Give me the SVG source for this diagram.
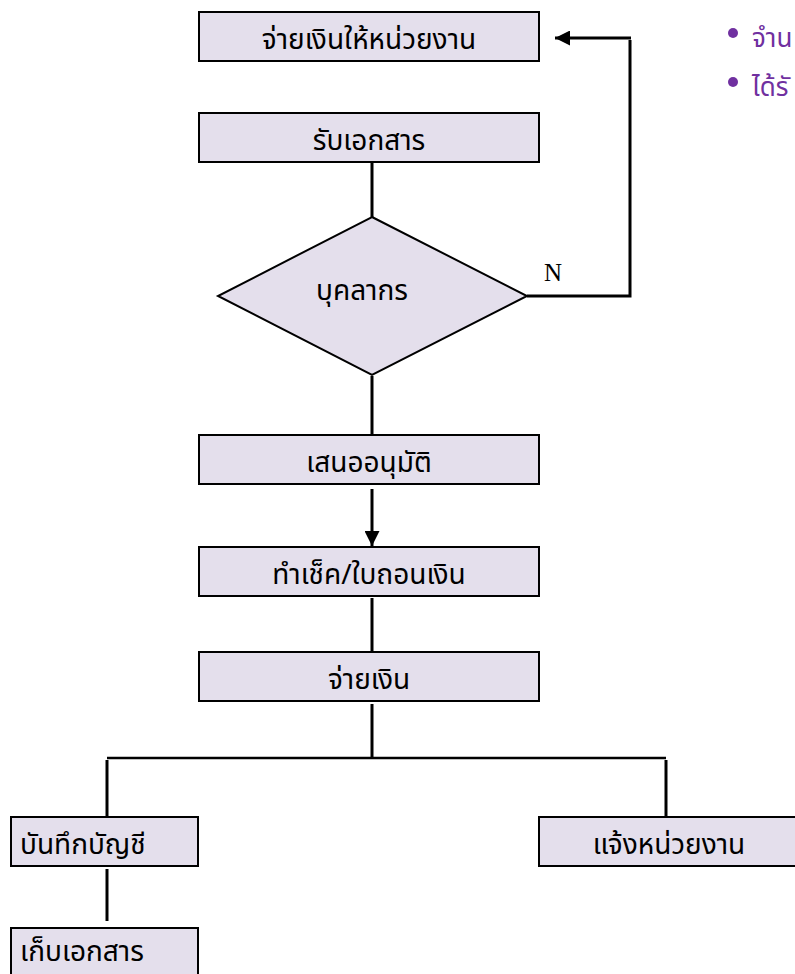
<svg xmlns="http://www.w3.org/2000/svg" width="795" height="974" viewBox="0 0 795 974">
<style>
.box{fill:#E4DFEC;stroke:#000;stroke-width:2}
.t{font-family:"Noto Sans Thai","Noto Sans","DejaVu Sans",sans-serif;font-size:28px;fill:#000;text-anchor:middle}
.tl{font-family:"Noto Sans Thai","Noto Sans","DejaVu Sans",sans-serif;font-size:28px;fill:#000}
.c{fill:none;stroke:#000;stroke-width:3}
.p{font-family:"Noto Sans Thai","Noto Sans","DejaVu Sans",sans-serif;font-size:26px;fill:#7030A0}
</style>
<defs>
<marker id="ah" viewBox="0 0 10 10" refX="10" refY="5" markerWidth="5" markerHeight="5" orient="auto" markerUnits="strokeWidth">
<path d="M0,0 L10,5 L0,10 z" fill="#000"/>
</marker>
</defs>
<g id="connectors">
<line class="c" x1="372" y1="163" x2="372" y2="217"/>
<polyline class="c" points="527,296 630,296 630,40"/>
<line class="c" x1="631" y1="38" x2="555" y2="38" marker-end="url(#ah)"/>
<line class="c" x1="372" y1="376" x2="372" y2="435"/>
<line class="c" x1="372" y1="489" x2="372" y2="546" marker-end="url(#ah)"/>
<line class="c" x1="372" y1="598" x2="372" y2="652"/>
<line class="c" x1="372" y1="704" x2="372" y2="757"/>
<line class="c" x1="107" y1="758" x2="666" y2="758" style="stroke-width:2.5"/>
<line class="c" x1="107" y1="760" x2="107" y2="817"/>
<line class="c" x1="666" y1="760" x2="666" y2="817"/>
<line class="c" x1="107" y1="869" x2="107" y2="921"/>
<text x="544" y="281" style="font-family:'Liberation Serif',serif;font-size:25px;fill:#000">N</text>
</g>
<g id="n1"><rect class="box" x="199" y="12" width="340" height="49"/><text class="t" x="369" y="49">จ่ายเงินให้หน่วยงาน</text></g>
<g id="n2"><rect class="box" x="199" y="113" width="340" height="49"/><text class="t" x="369" y="150">รับเอกสาร</text></g>
<g id="n3"><polygon class="box" points="372,217 527,296 372,375 218,296"/><text class="t" x="362" y="300">บุคลากร</text></g>
<g id="n4"><rect class="box" x="199" y="435" width="340" height="49"/><text class="t" x="369" y="472">เสนออนุมัติ</text></g>
<g id="n5"><rect class="box" x="199" y="547" width="340" height="49"/><text class="t" x="369" y="584">ทำเช็ค/ใบถอนเงิน</text></g>
<g id="n6"><rect class="box" x="199" y="652" width="340" height="49"/><text class="t" x="369" y="689">จ่ายเงิน</text></g>
<g id="n7"><rect class="box" x="11" y="817" width="187" height="49"/><text class="tl" x="20" y="854">บันทึกบัญชี</text></g>
<g id="n8"><rect class="box" x="539" y="817" width="260" height="49"/><text class="t" x="669" y="854">แจ้งหน่วยงาน</text></g>
<g id="n9"><rect class="box" x="11" y="928" width="187" height="60"/><text class="tl" x="20" y="961">เก็บเอกสาร</text></g>
<g id="notes">
<circle cx="733" cy="33" r="5" fill="#7030A0"/>
<text class="p" x="752" y="47">จำน</text>
<circle cx="733" cy="82" r="5" fill="#7030A0"/>
<text class="p" x="752" y="96">ได้รั</text>
</g>
</svg>
